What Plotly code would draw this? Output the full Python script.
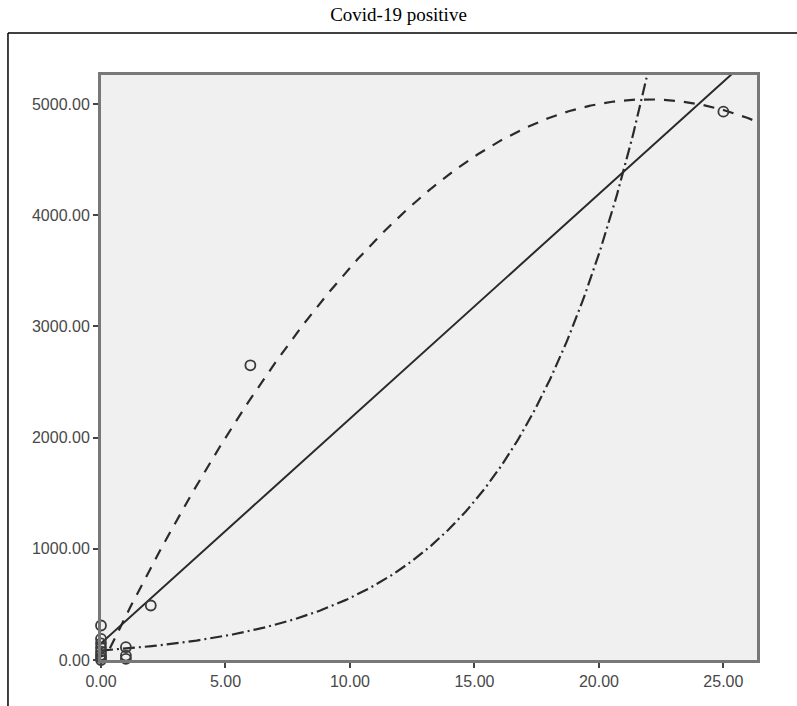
import numpy as np
import plotly.graph_objects as go

obs_x = [0, 0, 0, 0, 0, 0, 0, 0, 1, 1, 1, 2, 6, 25]
obs_y = [310, 190, 150, 110, 75, 45, 20, 0, 115, 40, 10, 490, 2650, 4930]

# Fitted model coefficients
lin_b0, lin_b1 = 150.0, 202.0
quad_b0, quad_b1, quad_b2 = -56.0, 463.8, -10.55
exp_a, exp_k = 85.0, 0.188

x_ticks = [0, 5, 10, 15, 20, 25]
y_ticks = [0, 1000, 2000, 3000, 4000, 5000]
x_range = [0, 26.35]
y_range = [0, 5260]

xs = np.linspace(0, x_range[1], 400)
lin_y = lin_b0 + lin_b1 * xs
quad_y = quad_b0 + quad_b1 * xs + quad_b2 * xs ** 2
exp_y = exp_a * np.exp(exp_k * xs)

fig = go.Figure()
fig.add_trace(go.Scatter(x=xs, y=quad_y, mode="lines",
                         line=dict(color="#2a2a2a", width=2.2, dash="11px,9px"),
                         showlegend=False, hoverinfo="skip"))
fig.add_trace(go.Scatter(x=xs, y=exp_y, mode="lines",
                         line=dict(color="#2a2a2a", width=2.2, dash="12px,4px,2px,4px"),
                         showlegend=False, hoverinfo="skip"))
fig.add_trace(go.Scatter(x=xs, y=lin_y, mode="lines",
                         line=dict(color="#2a2a2a", width=2),
                         showlegend=False, hoverinfo="skip"))
fig.add_trace(go.Scatter(x=obs_x, y=obs_y, mode="markers",
                         marker=dict(symbol="circle-open", size=10, color="#3a3a3a",
                                     line=dict(width=1.8, color="#3a3a3a")),
                         cliponaxis=False, showlegend=False))

axis_common = dict(showgrid=False, zeroline=False, showline=True, mirror=True,
                   linecolor="#787878", linewidth=3, ticks="outside", ticklen=5,
                   tickwidth=1.8, tickcolor="#444444", tickformat=".2f",
                   tickfont=dict(family="Liberation Sans, Arial", size=16, color="#484848"))

fig.update_xaxes(range=x_range, tickvals=x_ticks, **axis_common)
fig.update_yaxes(range=y_range, tickvals=y_ticks, **axis_common)

fig.update_layout(
    width=797, height=706,
    margin=dict(l=101, r=40, t=75, b=46),
    paper_bgcolor="white", plot_bgcolor="#f0f0f0",
    title=dict(text="Covid-19 positive", x=0.5, xref="container", xanchor="center",
               y=1 - 14 / 706, yref="container", yanchor="middle",
               font=dict(family="Liberation Serif, Times New Roman", size=19, color="black")),
    shapes=[
        dict(type="line", xref="paper", yref="paper", x0=-0.1418, x1=1.07,
             y0=1.0718, y1=1.0718, line=dict(color="black", width=1.5)),
        dict(type="line", xref="paper", yref="paper", x0=-0.1418, x1=-0.1418,
             y0=1.0718, y1=-0.09, line=dict(color="black", width=1.5)),
    ],
)

fig.write_html("out.html")
